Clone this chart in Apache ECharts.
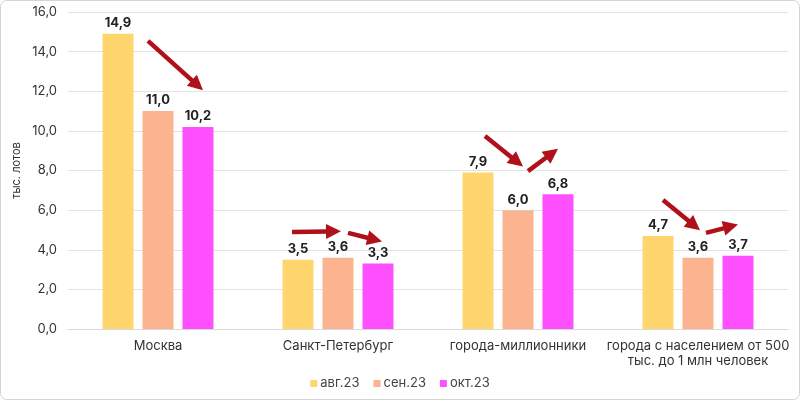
<!DOCTYPE html>
<html><head><meta charset="utf-8">
<script src="https://cdn.jsdelivr.net/npm/echarts@6/dist/echarts.min.js"></script>
<style>html,body{margin:0;padding:0;background:#fff}#c{width:800px;height:400px}</style>
</head><body><div id="c"></div>
<script>
const categories = ['Москва', 'Санкт-Петербург', 'города-миллионники', 'города с населением от 500\nтыс. до 1 млн человек'];
const seriesNames = ['авг.23', 'сен.23', 'окт.23'];
const aug23 = [14.9, 3.5, 7.9, 4.7];
const sep23 = [11.0, 3.6, 6.0, 3.6];
const oct23 = [10.2, 3.3, 6.8, 3.7];
const yTicks = {min: 0, max: 16, interval: 2};
const yAxisName = 'тыс. лотов';
// trend arrows: [category index, start offset px, start value, end offset px, end value]
const arrows = [
  [0, -10, 14.54, 45, 12.05],
  [1, -46, 4.9, 3, 4.93],
  [1, 10, 4.85, 44, 4.42],
  [2, -33, 9.74, 5, 8.2],
  [2, 10, 7.97, 40, 9.1],
  [3, -35, 6.51, 2, 4.98],
  [3, 8, 4.85, 40, 5.27]
];
const colors = ['#FFD66E', '#FBB48F', '#FF50FF'];
const FONT = 'Inter, "Noto Sans", sans-serif';
const fmt = v => v.toFixed(1).replace('.', ',');

const chart = echarts.init(document.getElementById('c'), null, {renderer: 'canvas'});
const vals = [aug23, sep23, oct23];
chart.setOption({
  animation: false,
  color: colors,
  grid: {left: 68, right: 12, top: 12, bottom: 71},
  legend: {
    bottom: 5, left: 'center', itemWidth: 7, itemHeight: 7, itemGap: 14,
    icon: 'rect',
    textStyle: {fontFamily: FONT, fontSize: 13, color: '#444', padding: [0, 0, 0, -2]},
    data: seriesNames
  },
  xAxis: {
    type: 'category', data: categories,
    axisLine: {lineStyle: {color: '#d9d9d9'}},
    axisTick: {show: false},
    axisLabel: {fontFamily: FONT, fontSize: 13, color: '#333', interval: 0, margin: 10, lineHeight: 15}
  },
  yAxis: {
    type: 'value', min: yTicks.min, max: yTicks.max, interval: yTicks.interval,
    name: yAxisName, nameLocation: 'middle', nameGap: 46, nameRotate: 90, nameMoveOverlap: false,
    nameTextStyle: {fontFamily: FONT, fontSize: 11, color: '#333'},
    axisLine: {show: false}, axisTick: {show: false},
    splitLine: {lineStyle: {color: '#e3e3e3'}},
    axisLabel: {fontFamily: FONT, fontSize: 13, color: '#333', margin: 11, formatter: v => fmt(v)}
  },
  series: seriesNames.map((n, i) => ({
    name: n, type: 'bar', data: vals[i], barWidth: 31, barGap: '29%',
    label: {show: true, position: 'top', distance: 4, fontFamily: FONT, fontSize: 13, fontWeight: 'bold', color: '#222', formatter: p => fmt(p.value)}
  }))
});

function drawArrows() {
  const els = [{
    type: 'rect', shape: {x: 0.5, y: 0.5, width: 799, height: 399, r: 6},
    style: {fill: 'none', stroke: '#d4d4d4', lineWidth: 1}, silent: true, z: 100
  }];
  arrows.forEach(a => {
    const cx = chart.convertToPixel({xAxisIndex: 0}, a[0]);
    const x1 = cx + a[1], y1 = chart.convertToPixel({yAxisIndex: 0}, a[2]);
    const x2 = cx + a[3], y2 = chart.convertToPixel({yAxisIndex: 0}, a[4]);
    const dx = x2 - x1, dy = y2 - y1, L = Math.hypot(dx, dy);
    const ux = dx / L, uy = dy / L, px = -uy, py = ux;
    const hl = 15, hw = 7.5;
    const bx = x2 - ux * hl, by = y2 - uy * hl;
    els.push({type: 'line', shape: {x1, y1, x2: bx + ux * 2, y2: by + uy * 2}, style: {stroke: '#B0101A', lineWidth: 4.5}, z: 50});
    els.push({type: 'polygon', shape: {points: [[x2, y2], [bx + px * hw, by + py * hw], [bx - px * hw, by - py * hw]]}, style: {fill: '#B0101A'}, z: 51});
  });
  chart.setOption({graphic: {elements: els}});
}
drawArrows();
</script></body></html>
